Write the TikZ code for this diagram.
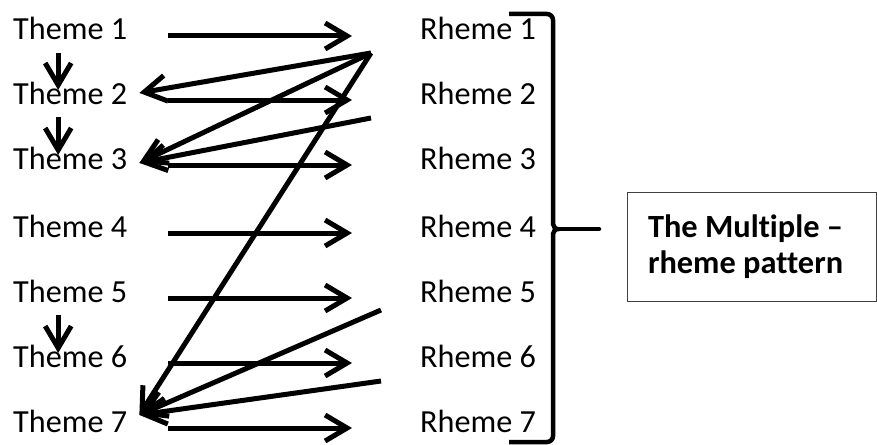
\documentclass[tikz,border=0pt]{standalone}
\usepackage{fontspec}
\setmainfont{Carlito}[Ligatures=NoCommon]
\usepackage{tikz}
\usetikzlibrary{arrows.meta}

\begin{document}
\begin{tikzpicture}[
    x=1pt, y=-1pt,
    theme/.style={anchor=base west, inner xsep=12pt, inner ysep=0pt, font=\fontsize{32.2}{36}\selectfont},
    rheme/.style={anchor=base west, inner sep=0pt, font=\fontsize{32.2}{36}\selectfont},
    flow/.style={-{Straight Barb[length=22pt, width=26pt]}, line width=5pt},
    pass/.style={flow, shorten <=29pt, shorten >=68pt},
    drop/.style={flow, shorten <=13pt, shorten >=3pt},
    brace/.style={line width=4.5pt, rounded corners=6pt},
    note/.style={draw=black!75, line width=1pt, minimum height=109pt, text width=207pt, inner xsep=21pt, align=flush left, font=\bfseries\fontsize{32.4}{36}\selectfont}
]
    \useasboundingbox (0,0) rectangle (877,444);

    % Themes on the left
    \node[theme] (t1) at (1,40) {Theme 1};
    \node[theme] (t2) at (1,104) {Theme 2};
    \node[theme] (t3) at (1,169) {Theme 3};
    \node[theme] (t4) at (1,237) {Theme 4};
    \node[theme] (t5) at (1,302) {Theme 5};
    \node[theme] (t6) at (1,367) {Theme 6};
    \node[theme] (t7) at (1,432) {Theme 7};

    % Rhemes on the right
    \node[rheme] (r1) at (420,40) {Rheme 1};
    \node[rheme] (r2) at (420,104) {Rheme 2};
    \node[rheme] (r3) at (420,169) {Rheme 3};
    \node[rheme] (r4) at (420,237) {Rheme 4};
    \node[rheme] (r5) at (420,302) {Rheme 5};
    \node[rheme] (r6) at (420,367) {Rheme 6};
    \node[rheme] (r7) at (420,432) {Rheme 7};

    % Theme -> Rheme
    \draw[pass] ([yshift=4pt]t1.base east) -- ([yshift=4pt]r1.base west);
    \draw[pass] ([yshift=4pt]t2.base east) -- ([yshift=4pt]r2.base west);
    \draw[pass] ([yshift=4pt]t3.base east) -- ([yshift=4pt]r3.base west);
    \draw[pass] ([yshift=4pt]t4.base east) -- ([yshift=4pt]r4.base west);
    \draw[pass] ([yshift=4pt]t5.base east) -- ([yshift=4pt]r5.base west);
    \draw[pass] ([yshift=4pt]t6.base east) -- ([yshift=4pt]r6.base west);
    \draw[pass] ([yshift=4pt]t7.base east) -- ([yshift=4pt]r7.base west);

    % Theme -> next Theme
    \draw[drop] ([xshift=-12pt]t1.south) -- ([xshift=-12pt]t2.center);
    \draw[drop] ([xshift=-12pt]t2.south) -- ([xshift=-12pt]t3.center);
    \draw[drop] ([xshift=-12pt]t5.south) -- ([xshift=-12pt]t6.center);

    % Rheme split back into later Themes
    \coordinate (k1) at (371,53);
    \coordinate (k2) at (371,118);
    \coordinate (k5) at (381,310);
    \coordinate (k6) at (381,381);
    \draw[flow] (k1) -- (t2.east);
    \draw[flow] (k1) -- ([yshift=-5pt]t3.east);
    \draw[flow] (k1) -- ([yshift=6pt]t7.east);
    \draw[flow] (k2) -- ([yshift=-5pt]t3.east);
    \draw[flow] (k5) -- ([yshift=6pt]t7.east);
    \draw[flow] (k6) -- ([yshift=6pt]t7.east);

    % Bracket round the Rhemes
    \draw[brace] (509,14) -- (553,14) -- (553,218) .. controls (553,227) and (556,229) .. (563,229)
        .. controls (556,229) and (553,231) .. (553,240) -- (553,442) -- (509,442);
    \draw[brace, line cap=round] (556,229) -- (599,229);

    \node[note] (note) at (751.5,246.5) {The Multiple --\\rheme pattern};
\end{tikzpicture}
\end{document}
